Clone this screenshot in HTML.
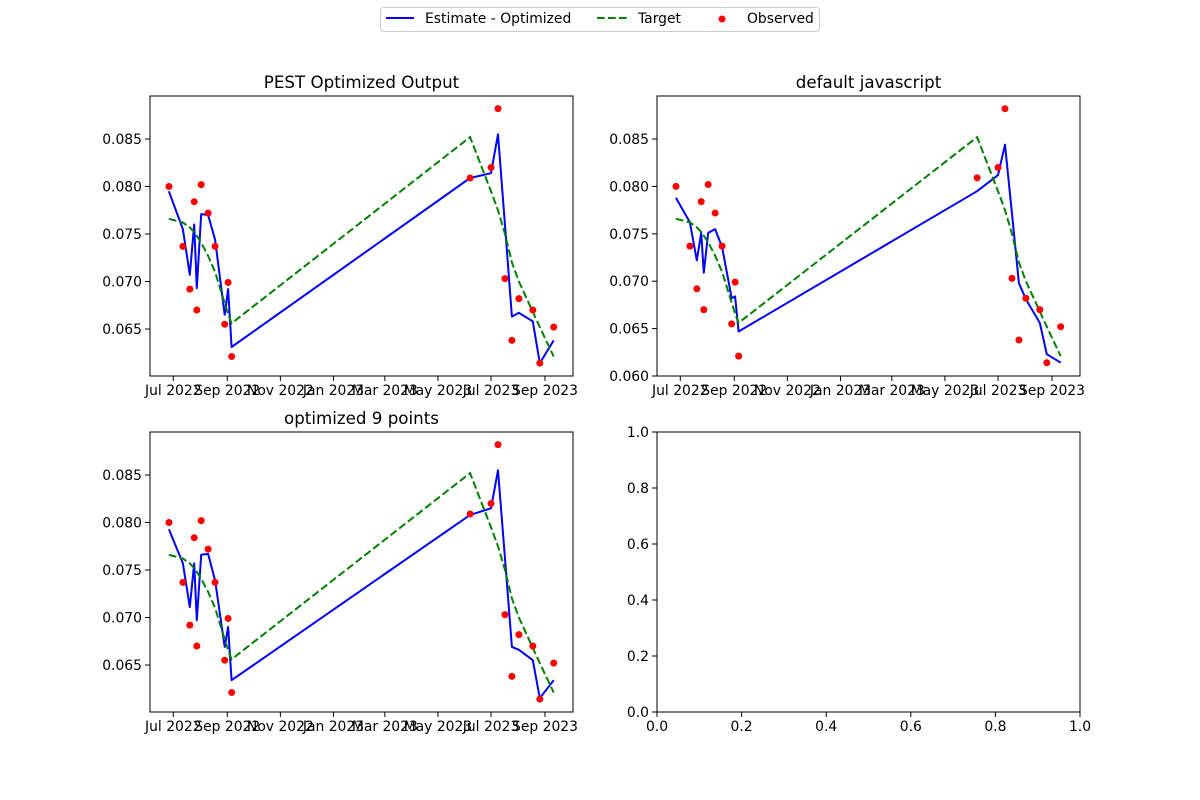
<!DOCTYPE html>
<html><head><meta charset="utf-8"><style>
html,body{margin:0;padding:0;background:#fff;}
svg{display:block;font-family:"DejaVu Sans","Liberation Sans",sans-serif;}
</style></head><body>
<svg id="fig" width="1200" height="800" viewBox="0 0 1200 800"></svg>
<script>
const dates = ["2022-06-26","2022-07-12","2022-07-20","2022-07-25","2022-07-28","2022-08-02","2022-08-10","2022-08-18","2022-08-29","2022-09-02","2022-09-06","2023-06-07","2023-07-01","2023-07-09","2023-07-17","2023-07-25","2023-08-02","2023-08-18","2023-08-26","2023-09-11"];
const observed = [0.0800,0.0737,0.0692,0.0784,0.0670,0.0802,0.0772,0.0737,0.0655,0.0699,0.0621,0.0809,0.0820,0.0882,0.0703,0.0638,0.0682,0.0670,0.0614,0.0652];
const target = [0.0766,0.0762,0.0757,0.0752,0.0748,0.0741,0.0727,0.0710,0.0677,0.0666,0.0656,0.0852,0.0795,0.0775,0.0750,0.0720,0.0700,0.0668,0.0652,0.0621];
const estimatePest = [0.0795,0.0755,0.0707,0.0760,0.0693,0.0771,0.0770,0.0744,0.0665,0.0692,0.0631,0.0809,0.0814,0.0855,0.0759,0.0663,0.0667,0.0658,0.0614,0.0638];
const estimateDefault = [0.0788,0.0762,0.0722,0.0751,0.0709,0.0751,0.0755,0.0736,0.0682,0.0684,0.0647,0.0795,0.0812,0.0844,0.0771,0.0698,0.0681,0.0656,0.0623,0.0614];
const estimate9 = [0.0793,0.0757,0.0711,0.0757,0.0697,0.0766,0.0767,0.0739,0.0669,0.0690,0.0634,0.0808,0.0815,0.0855,0.0762,0.0669,0.0666,0.0655,0.0615,0.0634];
const xTickLabels = ["Jul 2022","Sep 2022","Nov 2022","Jan 2023","Mar 2023","May 2023","Jul 2023","Sep 2023"];
const xTickDates = ["2022-07-01","2022-09-01","2022-11-01","2023-01-01","2023-03-01","2023-05-01","2023-07-01","2023-09-01"];
const yTicks = [0.060,0.065,0.070,0.075,0.080,0.085];
const emptyTicks = [0.0,0.2,0.4,0.6,0.8,1.0];

const NS="http://www.w3.org/2000/svg";
const svg=document.getElementById('fig');
function mk(tag,attrs,parent){const e=document.createElementNS(NS,tag);for(const k in attrs)e.setAttribute(k,attrs[k]);(parent||svg).appendChild(e);return e;}
const DAY=86400000, T0=Date.UTC(2022,6,1);
function dayOf(s){const p=s.split('-');return (Date.UTC(+p[0],+p[1]-1,+p[2])-T0)/DAY;}

function panel(L,T,title,est,ymin,ymax,name){
  const W=423,H=280,pxPerDay=0.8705,x0=L+23.3;
  const g=mk('g',{});
  
  
  const xs=d=>x0+dayOf(d)*pxPerDay;
  const ys=v=>T+H-(v-ymin)/(ymax-ymin)*H;
  mk('rect',{x:L,y:T,width:W,height:H,fill:'#fff'},g);
  const ti=mk('text',{x:L+W/2,y:T-8,'text-anchor':'middle','font-size':'16.7',fill:'#000'},g);ti.textContent=title;
  
  xTickDates.forEach((d,i)=>{const x=xs(d);
    mk('line',{x1:x,y1:T+H,x2:x,y2:T+H+5,stroke:'#000','stroke-width':1},g);
    const t=mk('text',{x:x,y:T+H+19,'text-anchor':'middle','font-size':'13.9',fill:'#000'},g);t.textContent=xTickLabels[i];
    });
  yTicks.forEach(v=>{if(v<ymin-1e-6||v>ymax)return;const y=ys(v);
    mk('line',{x1:L-5,y1:y,x2:L,y2:y,stroke:'#000','stroke-width':1},g);
    const t=mk('text',{x:L-8,y:y+5,'text-anchor':'end','font-size':'13.9',fill:'#000'},g);t.textContent=v.toFixed(3);
    });
  const clip='c'+name;const cp=mk('clipPath',{id:clip},g);mk('rect',{x:L,y:T,width:W,height:H},cp);
  const pts=arr=>arr.map((v,i)=>xs(dates[i]).toFixed(1)+','+ys(v).toFixed(1)).join(' ');
  const el=mk('polyline',{points:pts(est),fill:'none',stroke:'#0000ff','stroke-width':2,'stroke-linejoin':'round','clip-path':'url(#'+clip+')'},g);
  
  const tl=mk('polyline',{points:pts(target),fill:'none',stroke:'#008000','stroke-width':2,'stroke-dasharray':'7.7,3.3','clip-path':'url(#'+clip+')'},g);
  
  observed.forEach((v,i)=>{const c=mk('circle',{cx:xs(dates[i]),cy:ys(v),r:3.5,fill:'#ff0000'},g);
    });
  mk('rect',{x:L,y:T,width:W,height:H,fill:'none',stroke:'#000','stroke-width':1},g);
}
panel(150,96,'PEST Optimized Output',estimatePest,0.06005,0.08953,'panel-pest');
panel(657,96,'default javascript',estimateDefault,0.0600,0.08954,'panel-default');
panel(150,432,'optimized 9 points',estimate9,0.06005,0.08953,'panel-9points');

(function(){const L=657,T=432,W=423,H=280;const g=mk('g',{});
  
  mk('rect',{x:L,y:T,width:W,height:H,fill:'#fff',stroke:'#000','stroke-width':1},g);
  emptyTicks.forEach(v=>{const x=L+v*W,y=T+H-v*H;
    mk('line',{x1:x,y1:T+H,x2:x,y2:T+H+5,stroke:'#000'},g);
    const t=mk('text',{x:x,y:T+H+19,'text-anchor':'middle','font-size':'13.9'},g);t.textContent=v.toFixed(1);
    
    mk('line',{x1:L-5,y1:y,x2:L,y2:y,stroke:'#000'},g);
    const u=mk('text',{x:L-8,y:y+5,'text-anchor':'end','font-size':'13.9'},g);u.textContent=v.toFixed(1);
    });
})();

(function(){const g=mk('g',{});
  
  mk('rect',{x:380.5,y:7.5,width:439,height:24,rx:3,fill:'#fff',stroke:'#cccccc'},g);
  mk('line',{x1:386,y1:18,x2:414,y2:18,stroke:'#0000ff','stroke-width':2},g);
  let t=mk('text',{x:425,y:23,'font-size':'13.9'},g);t.textContent='Estimate - Optimized';
  
  mk('line',{x1:597,y1:18,x2:627,y2:18,stroke:'#008000','stroke-width':2,'stroke-dasharray':'7.7,3.3'},g);
  t=mk('text',{x:638,y:23,'font-size':'13.9'},g);t.textContent='Target';
  
  mk('circle',{cx:722,cy:19,r:3.5,fill:'#ff0000'},g);
  t=mk('text',{x:747,y:23,'font-size':'13.9'},g);t.textContent='Observed';
  
})();
</script>
</body></html>
